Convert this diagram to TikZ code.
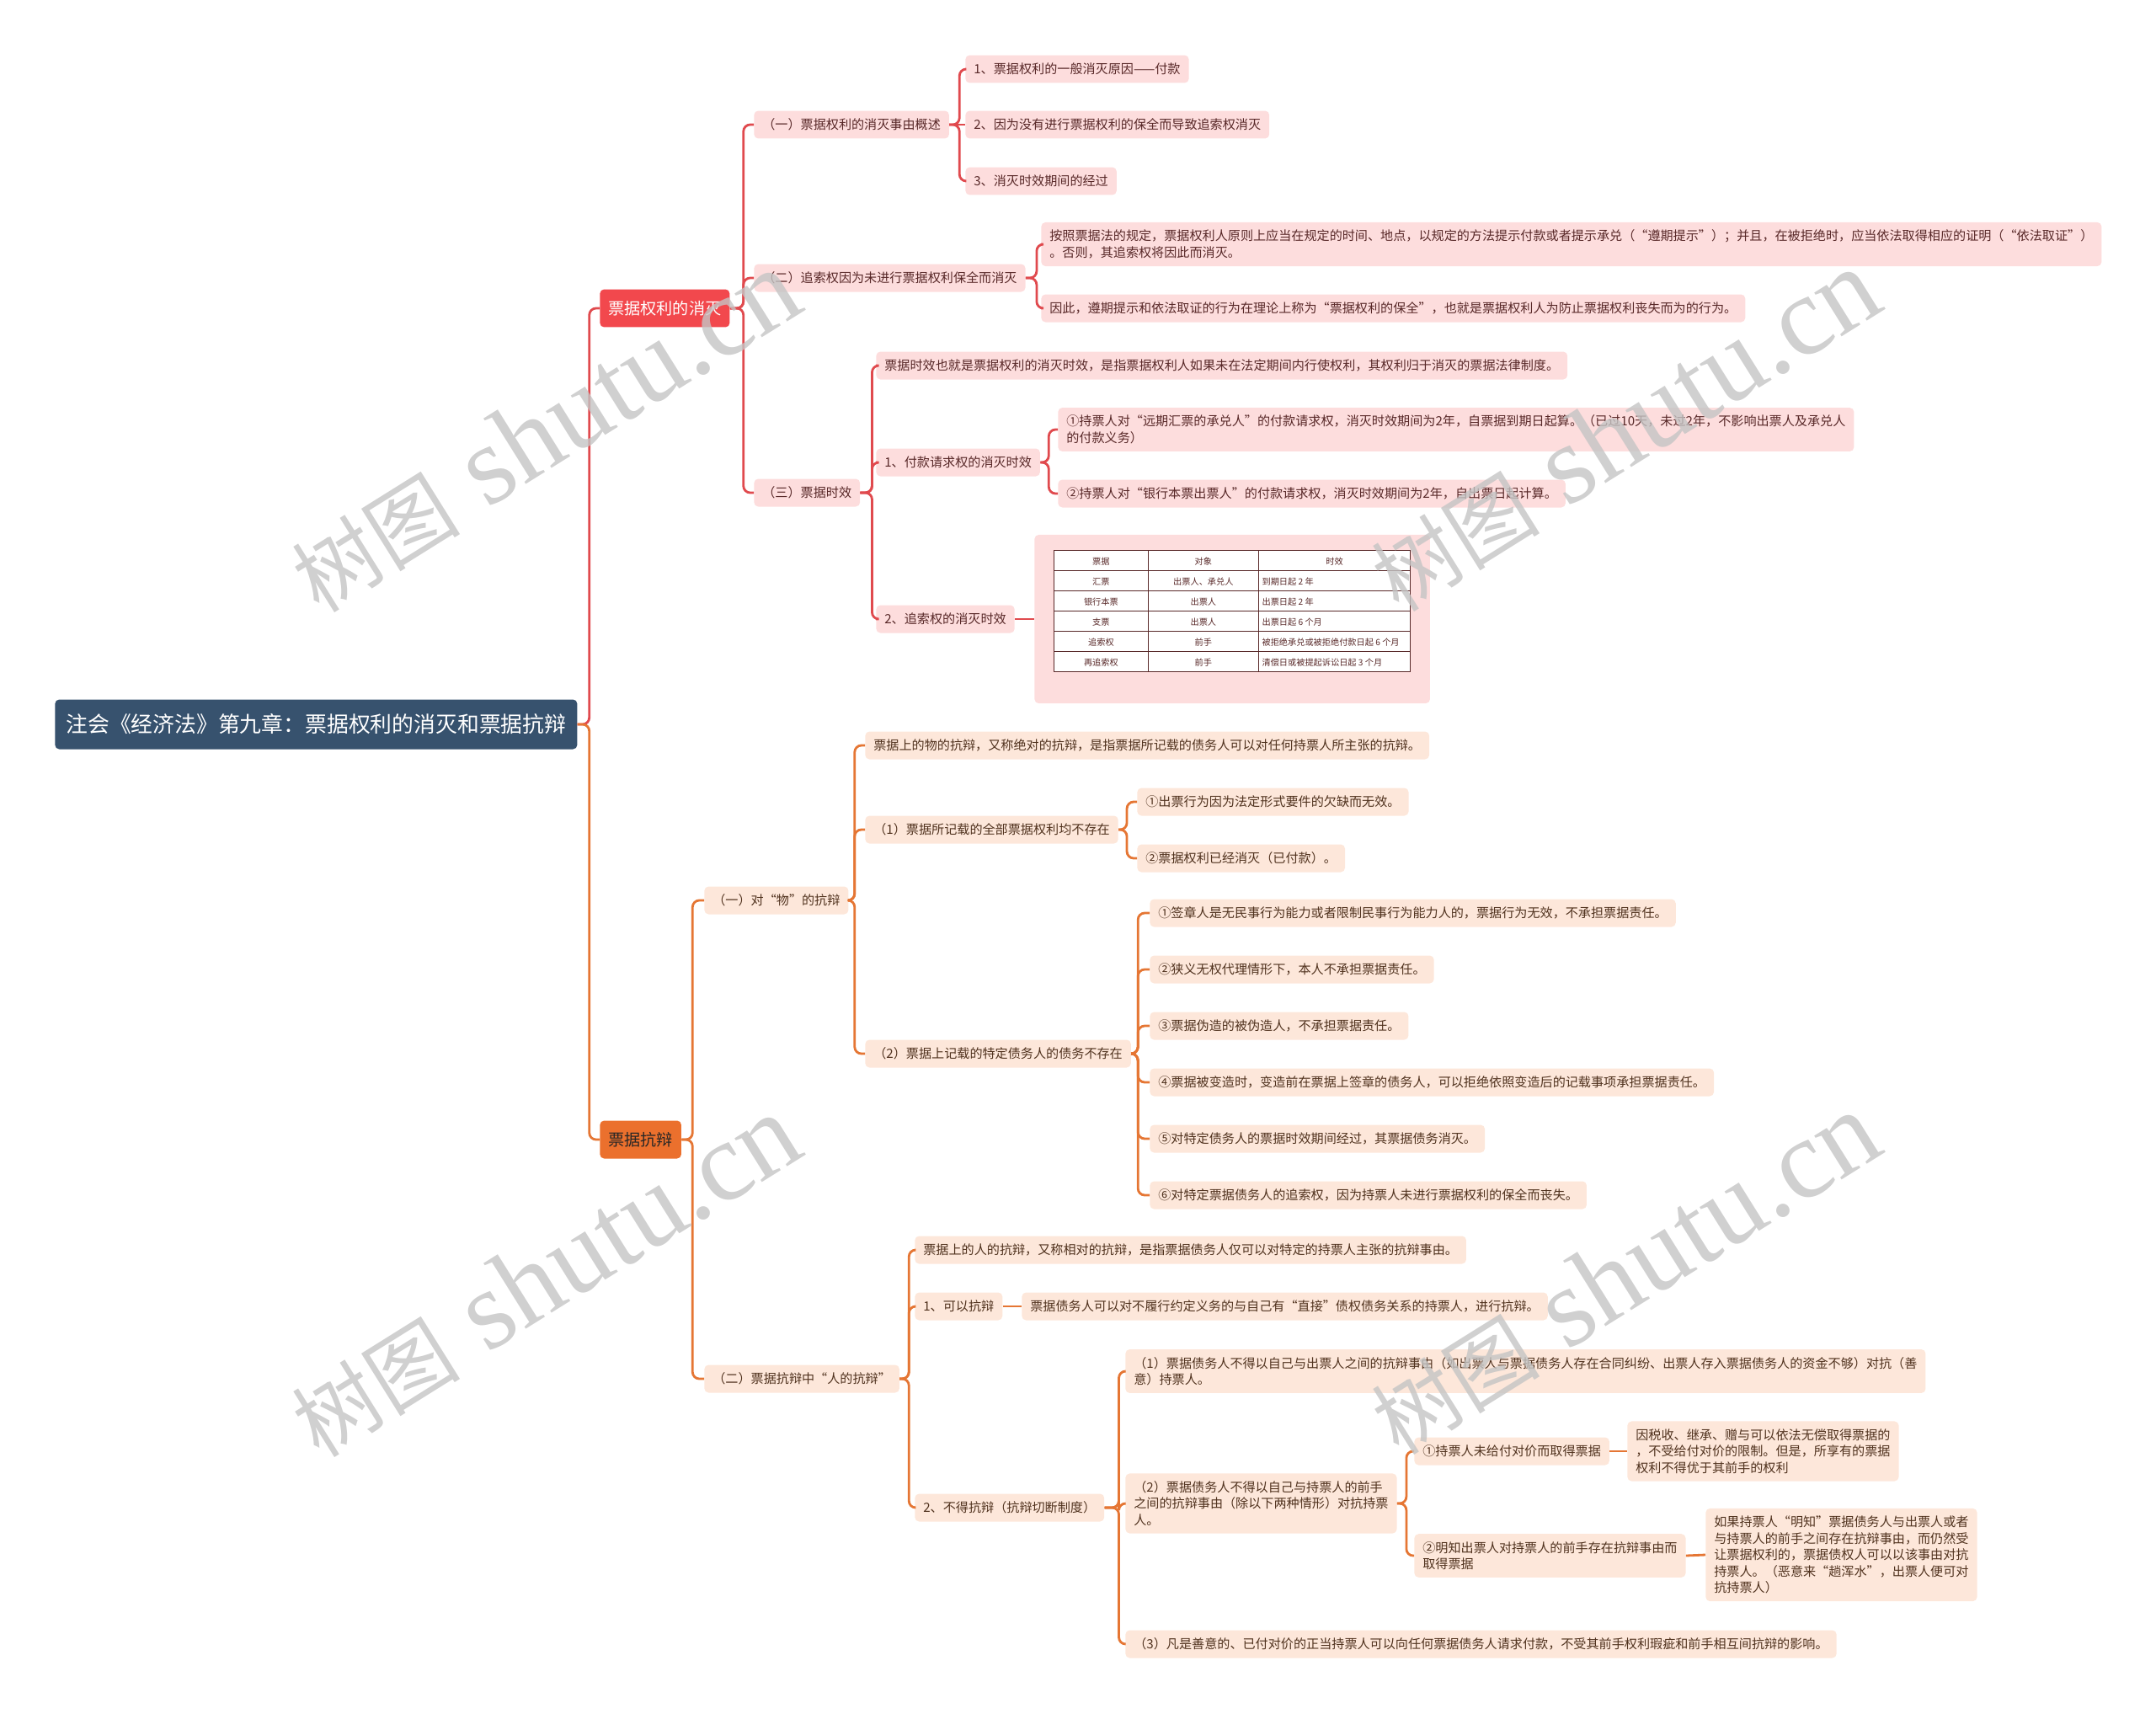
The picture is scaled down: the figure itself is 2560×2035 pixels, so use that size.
\documentclass[tikz,border=0pt]{standalone}
\usepackage{fontspec}
\setmainfont{Noto Sans CJK SC}
\newfontfamily\marklatin{Liberation Serif}
\usepackage{array}
\definecolor{rootblue}{RGB}{55,82,110}
\definecolor{lossred}{RGB}{242,72,77}
\definecolor{lossline}{RGB}{224,74,78}
\definecolor{losspink}{RGB}{253,221,221}
\definecolor{losstext}{RGB}{88,40,40}
\definecolor{deforange}{RGB}{235,112,45}
\definecolor{defline}{RGB}{229,118,52}
\definecolor{defpeach}{RGB}{253,231,218}
\definecolor{deftext}{RGB}{80,50,30}
\definecolor{markgray}{RGB}{196,196,196}
\newcolumntype{C}[1]{>{\centering\arraybackslash}p{#1}}
\newcommand\leaffont{\fontsize{8.6}{11.1}\selectfont}
\newcommand\gridfont{\fontsize{5.8}{7}\selectfont}
\newcommand\marktext{{\fontsize{57}{57}\selectfont 树图}\hspace{0.7cm}{\marklatin\fontsize{76}{76}\selectfont shutu.cn}}

\begin{document}
\begin{tikzpicture}[x=0.02cm, y=-0.02cm,
  rootbox/.style={rectangle, rounded corners=0.1cm, fill=rootblue, text=white,
    font=\fontsize{14.7}{17}\selectfont, inner xsep=0.26cm, minimum height=1.18cm, anchor=west},
  mainbox/.style={rectangle, rounded corners=0.1cm, font=\fontsize{10.9}{13}\selectfont,
    inner xsep=0.2cm, minimum height=0.9cm, anchor=west},
  leaf/.style={rectangle, rounded corners=0.1cm, font=\leaffont, align=left,
    inner xsep=0.2cm, inner ysep=0.18cm, minimum height=0.66cm, anchor=west},
  lossleaf/.style={leaf, fill=losspink, text=losstext},
  defleaf/.style={leaf, fill=defpeach, text=deftext},
  link/.style={line width=1.6pt, rounded corners=0.16cm},
  losslink/.style={link, draw=lossline},
  deflink/.style={link, draw=defline},
  watermark/.style={text=markgray, opacity=0.8, rotate=32}
]
  \useasboundingbox (0,0) rectangle (2560,2035);

  % Root
  \node[rootbox] (root) at (65,860) {注会《经济法》第九章：票据权利的消灭和票据抗辩};

  % Main branches
  \node[mainbox, fill=lossred, text=white] (loss) at (712,366) {票据权利的消灭};
  \node[mainbox, fill=deforange, text=black!85] (defense) at (712,1353) {票据抗辩};

  % Loss of rights
  \node[lossleaf] (causes) at (895,148) {（一）票据权利的消灭事由概述};
  \node[lossleaf] (recourse) at (895,330) {（二）追索权因为未进行票据权利保全而消灭};
  \node[lossleaf] (period) at (895,585) {（三）票据时效};

  \node[lossleaf] (payment) at (1146,82) {1、票据权利的一般消灭原因——付款};
  \node[lossleaf] (nopreserve) at (1146,148) {2、因为没有进行票据权利的保全而导致追索权消灭};
  \node[lossleaf] (lapse) at (1146,215) {3、消灭时效期间的经过};

  \node[lossleaf] (timely) at (1236,290)
    {按照票据法的规定，票据权利人原则上应当在规定的时间、地点，以规定的方法提示付款或者提示承兑（“遵期提示”）；并且，在被拒绝时，应当依法取得相应的证明（“依法取证”）\\。否则，其追索权将因此而消灭。};
  \node[lossleaf] (preserve) at (1236,366)
    {因此，遵期提示和依法取证的行为在理论上称为“票据权利的保全”，也就是票据权利人为防止票据权利丧失而为的行为。};

  \node[lossleaf] (perioddef) at (1040,434)
    {票据时效也就是票据权利的消灭时效，是指票据权利人如果未在法定期间内行使权利，其权利归于消灭的票据法律制度。};
  \node[lossleaf] (payclaim) at (1040,549) {1、付款请求权的消灭时效};
  \node[lossleaf] (recclaim) at (1040,735) {2、追索权的消灭时效};

  \node[lossleaf] (draft) at (1256,510)
    {①持票人对“远期汇票的承兑人”的付款请求权，消灭时效期间为2年，自票据到期日起算。（已过10天，未过2年，不影响出票人及承兑人\\的付款义务）};
  \node[lossleaf] (cashier) at (1256,586)
    {②持票人对“银行本票出票人”的付款请求权，消灭时效期间为2年，自出票日起计算。};

  % Limit table
  \node[lossleaf, inner xsep=0.46cm, inner ysep=0.36cm] (limits) at (1228,735)
    {\gridfont\setlength\tabcolsep{2pt}\renewcommand\arraystretch{1.9}\setlength\fboxsep{0pt}%
    \raisebox{0pt}[\height][\dimexpr\depth+0.38cm\relax]{\colorbox{white}{\begin{tabular}{|C{59pt}|C{70.5pt}|p{98pt}|}\hline
    票据 & 对象 & \multicolumn{1}{C{98pt}|}{时效}\\\hline
    汇票 & 出票人、承兑人 & 到期日起 2 年\\\hline
    银行本票 & 出票人 & 出票日起 2 年\\\hline
    支票 & 出票人 & 出票日起 6 个月\\\hline
    追索权 & 前手 & 被拒绝承兑或被拒绝付款日起 6 个月\\\hline
    再追索权 & 前手 & 清偿日或被提起诉讼日起 3 个月\\\hline
    \end{tabular}}}};

  % Defenses on the instrument
  \node[defleaf] (thing) at (836,1069) {（一）对“物”的抗辩};
  \node[defleaf] (person) at (836,1637) {（二）票据抗辩中“人的抗辩”};

  \node[defleaf] (thingdef) at (1027,885)
    {票据上的物的抗辩，又称绝对的抗辩，是指票据所记载的债务人可以对任何持票人所主张的抗辩。};
  \node[defleaf] (allgone) at (1027,985) {（1）票据所记载的全部票据权利均不存在};
  \node[defleaf] (onegone) at (1027,1251) {（2）票据上记载的特定债务人的债务不存在};

  \node[defleaf] (formvoid) at (1350,952) {①出票行为因为法定形式要件的欠缺而无效。};
  \node[defleaf] (paidoff) at (1350,1019) {②票据权利已经消灭（已付款）。};

  \node[defleaf] (incapable) at (1365,1084)
    {①签章人是无民事行为能力或者限制民事行为能力人的，票据行为无效，不承担票据责任。};
  \node[defleaf] (noagency) at (1365,1151) {②狭义无权代理情形下，本人不承担票据责任。};
  \node[defleaf] (forged) at (1365,1218) {③票据伪造的被伪造人，不承担票据责任。};
  \node[defleaf] (altered) at (1365,1285)
    {④票据被变造时，变造前在票据上签章的债务人，可以拒绝依照变造后的记载事项承担票据责任。};
  \node[defleaf] (expired) at (1365,1352) {⑤对特定债务人的票据时效期间经过，其票据债务消灭。};
  \node[defleaf] (unkept) at (1365,1419) {⑥对特定票据债务人的追索权，因为持票人未进行票据权利的保全而丧失。};

  % Personal defenses
  \node[defleaf] (persondef) at (1086,1484)
    {票据上的人的抗辩，又称相对的抗辩，是指票据债务人仅可以对特定的持票人主张的抗辩事由。};
  \node[defleaf] (allowed) at (1086,1551) {1、可以抗辩};
  \node[defleaf] (allowedtxt) at (1213,1551)
    {票据债务人可以对不履行约定义务的与自己有“直接”债权债务关系的持票人，进行抗辩。};
  \node[defleaf] (cutoff) at (1086,1790) {2、不得抗辩（抗辩切断制度）};

  \node[defleaf] (cutone) at (1336,1628)
    {（1）票据债务人不得以自己与出票人之间的抗辩事由（如出票人与票据债务人存在合同纠纷、出票人存入票据债务人的资金不够）对抗（善\\意）持票人。};
  \node[defleaf] (cuttwo) at (1336,1785)
    {（2）票据债务人不得以自己与持票人的前手\\之间的抗辩事由（除以下两种情形）对抗持票\\人。};
  \node[defleaf] (cutthree) at (1336,1952)
    {（3）凡是善意的、已付对价的正当持票人可以向任何票据债务人请求付款，不受其前手权利瑕疵和前手相互间抗辩的影响。};

  \node[defleaf] (noprice) at (1679,1723) {①持票人未给付对价而取得票据};
  \node[defleaf] (knowing) at (1679,1847) {②明知出票人对持票人的前手存在抗辩事由而\\取得票据};
  \node[defleaf] (nopricetxt) at (1932,1723)
    {因税收、继承、赠与可以依法无偿取得票据的\\，不受给付对价的限制。但是，所享有的票据\\权利不得优于其前手的权利};
  \node[defleaf] (knowingtxt) at (2025,1846)
    {如果持票人“明知”票据债务人与出票人或者\\与持票人的前手之间存在抗辩事由，而仍然受\\让票据权利的，票据债权人可以以该事由对抗\\持票人。（恶意来“趟浑水”，出票人便可对\\抗持票人）};

  % Links, loss side
  \draw[losslink] (root.east) -- ++(14,0) |- (loss.west);
  \draw[losslink] (loss.east) -- ++(16,0) |- (causes.west);
  \draw[losslink] (loss.east) -- ++(16,0) |- (recourse.west);
  \draw[losslink] (loss.east) -- ++(16,0) |- (period.west);
  \draw[losslink] (causes.east) -- ++(12,0) |- (payment.west);
  \draw[losslink] (causes.east) -- (nopreserve.west);
  \draw[losslink] (causes.east) -- ++(12,0) |- (lapse.west);
  \draw[losslink] (recourse.east) -- ++(13,0) |- (timely.west);
  \draw[losslink] (recourse.east) -- ++(13,0) |- (preserve.west);
  \draw[losslink] (period.east) -- ++(14,0) |- (perioddef.west);
  \draw[losslink] (period.east) -- ++(14,0) |- (payclaim.west);
  \draw[losslink] (period.east) -- ++(14,0) |- (recclaim.west);
  \draw[losslink] (payclaim.east) -- ++(10,0) |- (draft.west);
  \draw[losslink] (payclaim.east) -- ++(10,0) |- (cashier.west);
  \draw[losslink] (recclaim.east) -- (limits.west);

  % Links, defense side
  \draw[deflink] (root.east) -- ++(14,0) |- (defense.west);
  \draw[deflink] (defense.east) -- ++(13,0) |- (thing.west);
  \draw[deflink] (defense.east) -- ++(13,0) |- (person.west);
  \draw[deflink] (thing.east) -- ++(7,0) |- (thingdef.west);
  \draw[deflink] (thing.east) -- ++(7,0) |- (allgone.west);
  \draw[deflink] (thing.east) -- ++(7,0) |- (onegone.west);
  \draw[deflink] (allgone.east) -- ++(10,0) |- (formvoid.west);
  \draw[deflink] (allgone.east) -- ++(10,0) |- (paidoff.west);
  \foreach \leafname in {incapable,noagency,forged,altered,expired,unkept}
    \draw[deflink] (onegone.east) -- ++(8,0) |- (\leafname.west);
  \draw[deflink] (person.east) -- ++(11,0) |- (persondef.west);
  \draw[deflink] (person.east) -- ++(11,0) |- (allowed.west);
  \draw[deflink] (person.east) -- ++(11,0) |- (cutoff.west);
  \draw[deflink] (allowed.east) -- (allowedtxt.west);
  \draw[deflink] (cutoff.east) -- ++(17,0) |- (cutone.west);
  \draw[deflink] (cutoff.east) -- ++(17,0) |- (cuttwo.west);
  \draw[deflink] (cutoff.east) -- ++(17,0) |- (cutthree.west);
  \draw[deflink] (cuttwo.east) -- ++(11,0) |- (noprice.west);
  \draw[deflink] (cuttwo.east) -- ++(11,0) |- (knowing.west);
  \draw[deflink] (noprice.east) -- (nopricetxt.west);
  \draw[deflink] (knowing.east) -- (knowingtxt.west);

  % Watermarks
  \node[watermark] (mark1) at (647,512) {\marktext};
  \node[watermark] (mark2) at (1929,511) {\marktext};
  \node[watermark] (mark3) at (647,1515) {\marktext};
  \node[watermark] (mark4) at (1929,1512) {\marktext};
\end{tikzpicture}
\end{document}
